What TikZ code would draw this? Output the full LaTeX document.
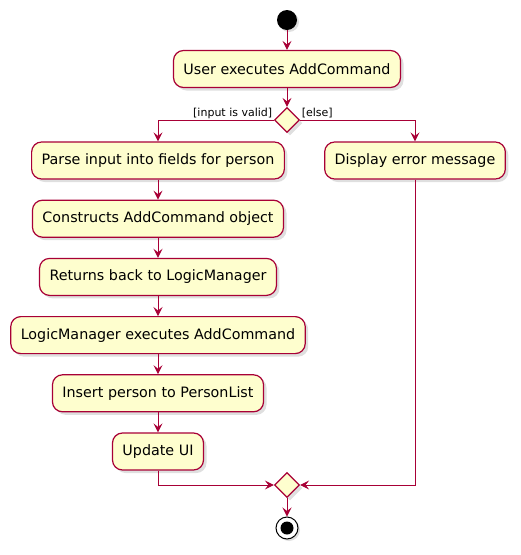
\documentclass[tikz,border=0pt]{standalone}
\usepackage{fontspec}
\setmainfont{DejaVu Sans}
\usetikzlibrary{positioning, calc, arrows.meta, shapes.geometric, shadows}
\definecolor{umlred}{HTML}{A80036}
\definecolor{umlfill}{HTML}{FEFECE}
\tikzset{activity/.style={draw=umlred, fill=umlfill, line width=1.2pt, rounded corners=10pt,
    minimum height=37pt, inner xsep=10pt, font=\fontsize{14.3}{16}\selectfont,
    drop shadow={shadow xshift=3pt, shadow yshift=-3pt, opacity=0.25}}}
\tikzset{branch/.style={diamond, draw=umlred, fill=umlfill, line width=1.2pt, minimum size=25pt,
    inner sep=0pt, drop shadow={shadow xshift=3pt, shadow yshift=-3pt, opacity=0.25}}}
\tikzset{flow/.style={draw=umlred, line width=1pt, -{Stealth[length=9pt, width=9pt, inset=3.5pt]}}}
\tikzset{guard/.style={font=\fontsize{11}{13}\selectfont, inner sep=1.5pt}}

\begin{document}
\begin{tikzpicture}[x=1pt, y=-1pt]
      \useasboundingbox (0,0) rectangle (521,555);

      \node[circle, fill=black, minimum size=20pt, inner sep=0pt,
        drop shadow={shadow xshift=2pt, shadow yshift=-2pt, opacity=0.25}] (start) at (287,20) {};
      \node[activity] (user) at (287,69) {User executes AddCommand};
      \node[branch] (split) at (287,120) {};

      \node[activity] (parse) at (158,160.5) {Parse input into fields for person};
      \node[activity] (error) at (415,160.5) {Display error message};
      \node[activity] (build) [below=20pt of parse] {Constructs AddCommand object};
      \node[activity] (back) [below=20pt of build] {Returns back to LogicManager};
      \node[activity] (exec) [below=20pt of back] {LogicManager executes AddCommand};
      \node[activity] (insert) [below=20pt of exec] {Insert person to PersonList};
      \node[activity] (ui) [below=20pt of insert] {Update UI};

      \node[branch] (merge) at (287,485) {};
      \node[circle, draw=black, fill=white, line width=1pt, minimum size=22pt, inner sep=0pt,
        drop shadow={shadow xshift=2pt, shadow yshift=-2pt, opacity=0.25}] (stop) at (287,528) {};
      \node[circle, fill=black, minimum size=13pt, inner sep=0pt] (stopdot) at (stop) {};

      \draw[flow] (start) -- (user);
      \draw[flow] (user) -- (split);
      \draw[flow] (split.west) -| (parse);
      \draw[flow] (split.east) -| (error);
      \node[guard, anchor=south east] at (split.west) {[input is valid]};
      \node[guard, anchor=south west] at (split.east) {[else]};
      \draw[flow] (parse) -- (build);
      \draw[flow] (build) -- (back);
      \draw[flow] (back) -- (exec);
      \draw[flow] (exec) -- (insert);
      \draw[flow] (insert) -- (ui);
      \draw[flow] (ui) |- (merge.west);
      \draw[flow] (error) |- (merge.east);
      \draw[flow] (merge) -- (stop);
\end{tikzpicture}
\end{document}
